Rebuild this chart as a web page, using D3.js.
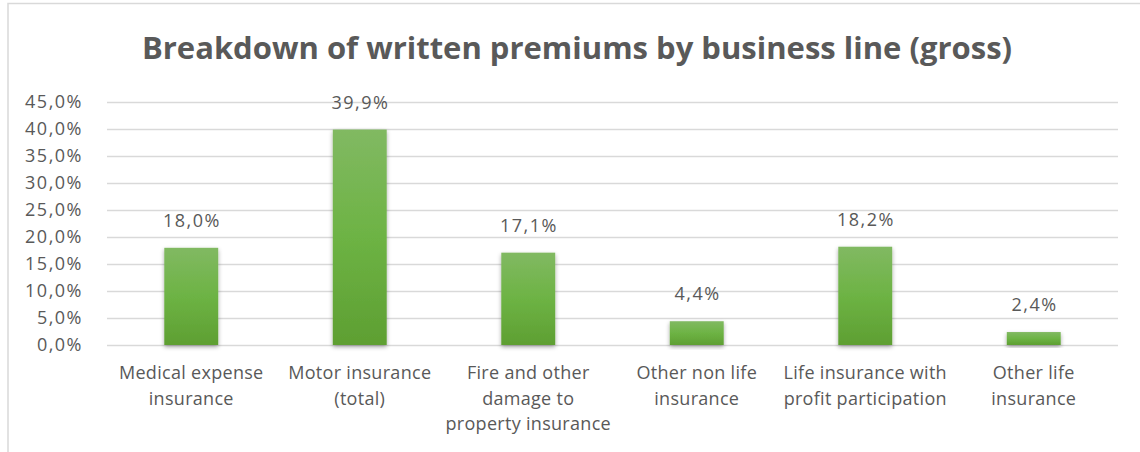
<!DOCTYPE html>
<html>
<head>
<meta charset="utf-8">
<script src="https://cdn.jsdelivr.net/npm/d3@7"></script>
<style>
  body { margin: 0; background: #fff; }
  text { font-family: "Open Sans", sans-serif; fill: #595959; }
</style>
</head>
<body>
<div id="chart"></div>
<script>
var categories = [
    ["Medical expense", "insurance"],
    ["Motor insurance", "(total)"],
    ["Fire and other", "damage to", "property insurance"],
    ["Other non life", "insurance"],
    ["Life insurance with", "profit participation"],
    ["Other life", "insurance"]
];
var values = [18.0, 39.9, 17.1, 4.4, 18.2, 2.4];
var yTicks = [0, 5, 10, 15, 20, 25, 30, 35, 40, 45];
var title = "Breakdown of written premiums by business line (gross)";

var w = 1140, h = 452;
var margin = {left: 107, right: 22, top: 102, bottom: 107};

var fmt = function(v) { return v.toFixed(1).replace(".", ",") + "%"; };

var svg = d3.select("#chart").append("svg")
    .attr("width", w)
    .attr("height", h);

// gradient for the bars
var defs = svg.append("defs");
var grad = defs.append("linearGradient")
    .attr("id", "barGrad")
    .attr("x1", 0).attr("y1", 0).attr("x2", 0).attr("y2", 1);
grad.append("stop").attr("offset", "0%").attr("stop-color", "#81b962");
grad.append("stop").attr("offset", "50%").attr("stop-color", "#6db344");
grad.append("stop").attr("offset", "100%").attr("stop-color", "#5e9f32");

var shadow = defs.append("filter").attr("id", "shadow")
    .attr("x", "-20%").attr("y", "-20%").attr("width", "140%").attr("height", "140%");
shadow.append("feDropShadow")
    .attr("dx", 0).attr("dy", 2).attr("stdDeviation", 2)
    .attr("flood-color", "#000").attr("flood-opacity", 0.35);

// chart border (frame cut at the picture edges)
svg.append("path")
    .attr("d", "M8," + h + " V3.5 H" + w)
    .attr("fill", "none")
    .attr("stroke", "#d9d9d9")
    .attr("stroke-width", 1.5);

var xScale = d3.scaleBand()
    .domain(d3.range(values.length))
    .range([margin.left, w - margin.right])
    .paddingInner(0.68)
    .paddingOuter(0.34);

var yScale = d3.scaleLinear()
    .domain([0, 45])
    .range([h - margin.bottom, margin.top]);

// gridlines
svg.append("g")
    .selectAll("line")
    .data(yTicks)
    .enter()
    .append("line")
    .attr("x1", margin.left)
    .attr("x2", w - margin.right)
    .attr("y1", function(d) { return Math.round(yScale(d)) + 0.5; })
    .attr("y2", function(d) { return Math.round(yScale(d)) + 0.5; })
    .attr("stroke", "#d9d9d9")
    .attr("stroke-width", 1.3);

// y axis labels
var yAxis = d3.axisLeft(yScale)
    .tickValues(yTicks)
    .tickFormat(function(d) { return fmt(d); })
    .tickSize(0)
    .tickPadding(24);
var gy = svg.append("g")
    .attr("transform", "translate(" + margin.left + ",0)")
    .call(yAxis);
gy.select(".domain").remove();
gy.selectAll("text")
    .attr("font-size", "18px")
    .attr("letter-spacing", "1.5px")
    .attr("font-family", "'Open Sans', sans-serif")
    .attr("fill", "#595959");

// bars
svg.append("g")
    .selectAll("rect")
    .data(values)
    .enter()
    .append("rect")
    .attr("x", function(d, i) { return xScale(i); })
    .attr("y", function(d) { return yScale(d); })
    .attr("width", xScale.bandwidth())
    .attr("height", function(d) { return yScale(0) - yScale(d); })
    .attr("fill", "url(#barGrad)")
    .attr("filter", "url(#shadow)");

// value labels
svg.append("g")
    .selectAll("text")
    .data(values)
    .enter()
    .append("text")
    .attr("x", function(d, i) { return xScale(i) + xScale.bandwidth() / 2 + 0.75; })
    .attr("y", function(d) { return yScale(d) - 21; })
    .attr("text-anchor", "middle")
    .attr("font-size", "18px")
    .attr("letter-spacing", "1.5px")
    .text(function(d) { return fmt(d); });

// category labels
var cat = svg.append("g")
    .selectAll("text")
    .data(categories)
    .enter()
    .append("text")
    .attr("x", function(d, i) { return xScale(i) + xScale.bandwidth() / 2; })
    .attr("y", yScale(0) + 34)
    .attr("text-anchor", "middle")
    .attr("font-size", "18px")
    .attr("letter-spacing", "0.3px");
cat.selectAll("tspan")
    .data(function(d) { return d; })
    .enter()
    .append("tspan")
    .attr("x", function() { return d3.select(this.parentNode).attr("x"); })
    .attr("dy", function(d, i) { return i === 0 ? 0 : 25.5; })
    .text(function(d) { return d; });

// title
svg.append("text")
    .attr("x", 577)
    .attr("y", 59)
    .attr("text-anchor", "middle")
    .attr("font-size", "31px")
    .attr("font-weight", "bold")
    .text(title);
</script>
</body>
</html>
